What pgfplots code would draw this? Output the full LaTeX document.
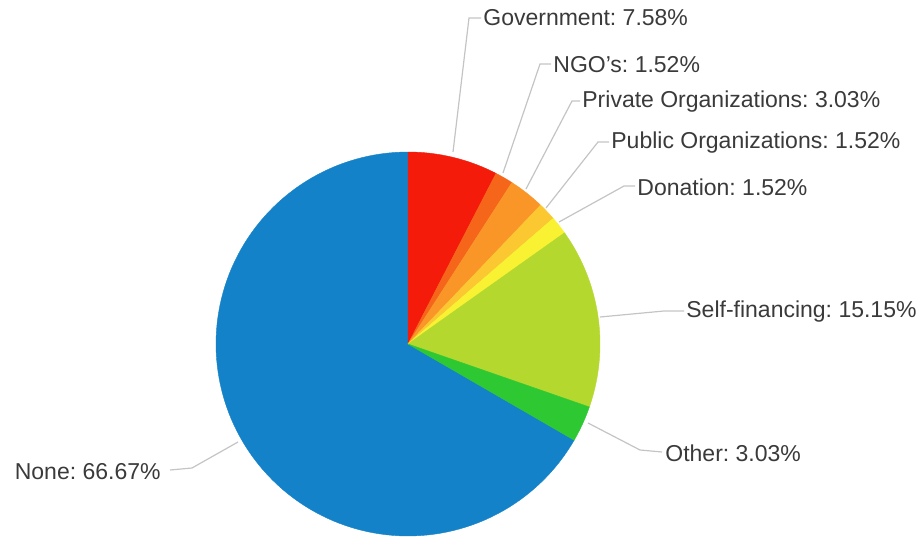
\documentclass[border=0pt]{standalone}
\usepackage{pgfplots}
\pgfplotsset{compat=1.18}
\usepackage{fontspec}
\setmainfont{Liberation Sans}
\frenchspacing
\definecolor{cGov}{HTML}{F41B0B}
\definecolor{cNGO}{HTML}{F5651A}
\definecolor{cPriv}{HTML}{FA9628}
\definecolor{cPub}{HTML}{FBC832}
\definecolor{cDon}{HTML}{F8F232}
\definecolor{cSelf}{HTML}{B4D82D}
\definecolor{cOth}{HTML}{2DC832}
\definecolor{cNone}{HTML}{1482C8}
\definecolor{lc}{HTML}{C4C4C4}
\definecolor{tc}{HTML}{3A3A3A}
% #1 cumulative share before, #2 cumulative share after, #3 colour
\newcommand{\slice}[3]{%
  \addplot[fill=#3, draw=#3, line width=0.2pt, domain={90-3.6*(#2)}:{90-3.6*(#1)}, samples=120, variable=\t]
    ({408+192*cos(\t)},{344-192*sin(\t)}) -- (axis cs:408,344) -- cycle;}
\begin{document}
\begin{tikzpicture}[font=\fontsize{11.5}{13.8}\selectfont]
\begin{axis}[
  scale only axis, width=458.5pt, height=268pt,
  xmin=0, xmax=917, ymin=0, ymax=536, y dir=reverse,
  hide axis, clip=false]
\path (axis cs:0,0) rectangle (axis cs:917,536);
% values (percent): Government 7.58, NGO's 1.52, Private 3.03, Public 1.52,
% Donation 1.52, Self-financing 15.15, Other 3.03, None 66.67
\slice{33.35}{100.02}{cNone}
\slice{0}{7.58}{cGov}
\slice{7.58}{9.10}{cNGO}
\slice{9.10}{12.13}{cPriv}
\slice{12.13}{13.65}{cPub}
\slice{13.65}{15.17}{cDon}
\slice{15.17}{30.32}{cSelf}
\slice{30.32}{33.35}{cOth}
% leader lines
\addplot[lc, line width=0.6pt] coordinates {(453,152) (469,18) (481,18)};
\addplot[lc, line width=0.6pt] coordinates {(503,173) (540,64) (551,64)};
\addplot[lc, line width=0.6pt] coordinates {(526,189) (572,101) (580,101)};
\addplot[lc, line width=0.6pt] coordinates {(546,208) (598,142) (609,142)};
\addplot[lc, line width=0.6pt] coordinates {(559,222) (624,186) (635,186)};
\addplot[lc, line width=0.6pt] coordinates {(600,317) (664,311) (684,311)};
\addplot[lc, line width=0.6pt] coordinates {(588,423) (640,450) (662,452)};
\addplot[lc, line width=0.6pt] coordinates {(238,442) (192,468) (170,470)};
% labels
\node[anchor=west, text=tc, inner sep=0pt] at (axis cs:483,18) {Government: 7.58\%};
\node[anchor=west, text=tc, inner sep=0pt] at (axis cs:553,65) {NGO's: 1.52\%};
\node[anchor=west, text=tc, inner sep=0pt] at (axis cs:582,102) {Private Organizations: 3.03\%};
\node[anchor=west, text=tc, inner sep=0pt] at (axis cs:611,143) {Public Organizations: 1.52\%};
\node[anchor=west, text=tc, inner sep=0pt] at (axis cs:637,187) {Donation: 1.52\%};
\node[anchor=west, text=tc, inner sep=0pt] at (axis cs:686,312) {Self-financing: 15.15\%};
\node[anchor=west, text=tc, inner sep=0pt] at (axis cs:665,453) {Other: 3.03\%};
\node[anchor=east, text=tc, inner sep=0pt] at (axis cs:161,472) {None: 66.67\%};
\end{axis}
\end{tikzpicture}
\end{document}
